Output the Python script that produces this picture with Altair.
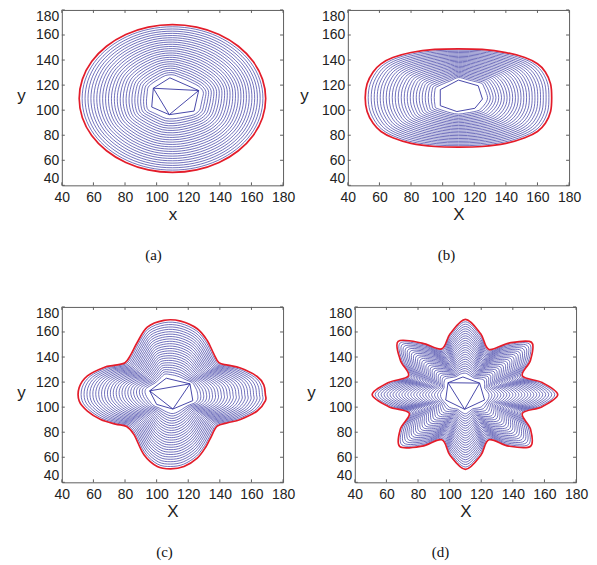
import math
import pandas as pd
import altair as alt

# ---------------- data ----------------
TICKS = [40, 60, 80, 100, 120, 140, 160, 180]
LEVELS = [0.08, 0.12, 0.16, 0.20, 0.24, 0.28, 0.32, 0.36, 0.40, 0.44, 0.48, 0.52,
          0.56, 0.60, 0.64, 0.68, 0.72, 0.76, 0.80, 0.84, 0.88, 0.92, 0.96, 1.00]

# (a) ellipse
A_CENTER = (110.5, 109.5)
A_OUTER_X = [169, 167, 161.1, 151.7, 139.5, 125.3, 110, 94.7, 80.5, 68.3, 58.9, 53, 51, 53, 58.9, 68.3, 80.5, 94.7, 110, 125.3, 139.5, 151.7, 161.1, 167]
A_OUTER_Y = [109.3, 124.6, 138.8, 151, 160.4, 166.3, 168.3, 166.3, 160.4, 151, 138.8, 124.6, 109.3, 94, 79.8, 67.6, 58.2, 52.3, 50.3, 52.3, 58.2, 67.6, 79.8, 94]
A_INNER_X = [97.9, 108.4, 126.6, 123.7, 108.0, 96.9]
A_INNER_Y = [117.5, 125.8, 115.7, 99.3, 96.4, 102.5]
A_TRI_X = [97.9, 126.6, 108.0]
A_TRI_Y = [117.5, 115.7, 96.4]

# (b) rounded rectangle
B_CENTER = (110.0, 110.0)
B_OUTER_X = [169, 168.3, 165, 160, 152, 140, 125, 110, 95, 80, 68.5, 61, 56, 52.2, 51, 52.2, 56, 61, 68.5, 80, 95, 110, 125, 140, 152, 160, 165, 168.3]
B_OUTER_Y = [110, 121, 130.5, 137, 142, 146, 148.5, 149, 148.5, 146, 142, 137, 130.5, 121, 110, 99, 89.5, 83, 78, 73.5, 71, 70.5, 71, 73.5, 78, 83, 89.5, 99]
B_INNER_X = [98.5, 110.0, 122.5, 125.2, 120.4, 109.0, 98.5]
B_INNER_Y = [116.4, 124.0, 119.5, 108.9, 101.5, 98.9, 103.6]
B_TRI_X = []
B_TRI_Y = []

# (c) four-lobed shape
C_CENTER = (110.0, 110.0)
C_OUTER_X = [168.8, 167.8, 163.6, 153, 145, 139.4, 136, 132, 125.7, 115.2, 104.6, 94.1, 87.8, 83.5,
             80, 73, 66.7, 56.2, 51, 51, 56.2, 64.6, 74, 81, 85.7, 92, 100.4, 108.8, 117.3, 125.7,
             131, 134.1, 138.3, 145, 153, 163.6, 168.8]
C_OUTER_Y = [110, 117.8, 124.5, 131.2, 133.5, 135.5, 143, 153.2, 162.6, 168.7, 169.3, 163.9, 151.8, 141.5,
             135.5, 133.3, 131.7, 125, 115.6, 104.9, 96.9, 90.2, 86.5, 84.5, 78.1, 62, 52.6, 50.7, 52.6, 59.3,
             68, 75.4, 84.8, 87.5, 90.2, 96.9, 105]
C_INNER_X = [95.6, 106.1, 121.1, 122.9, 110.3, 100.0]
C_INNER_Y = [113.0, 123.1, 118.6, 105.2, 98.5, 102.2]
C_TRI_X = [95.6, 121.1, 110.3]
C_TRI_Y = [113.0, 118.6, 98.5]

# (d) eight-pointed star (polar: angle in degrees, radius)
D_CENTER = (110.0, 110.0)
D_ANGLES = [0, 11.25, 22.5, 33.75, 45, 56.25, 67.5, 78.75, 90, 101.25, 112.5, 123.75, 135, 146.25,
            157.5, 168.75, 180, 191.25, 202.5, 213.75, 225, 236.25, 247.5, 258.75, 270, 281.25,
            292.5, 303.75, 315, 326.25, 337.5, 348.75]
D_RADII = [58.4, 49.5, 39, 49.5, 59.1, 49.5, 39, 49.5, 60, 49.5, 39.5, 49.5, 60.2, 49.5, 39, 49.5,
           59, 49.5, 38.5, 49.5, 58.7, 49.5, 39, 49.5, 59.7, 49.5, 39, 49.5, 58.3, 49.5, 39, 49.5]
D_INNER_X = [99.0, 108.4, 119.0, 122.1, 109.5, 97.5]
D_INNER_Y = [119.5, 124.1, 119.2, 105.7, 98.3, 105.7]
D_TRI_X = [99.0, 119.0, 109.5]
D_TRI_Y = [119.5, 119.2, 98.3]

BLUE = "#3434a0"
RED = "#e31c2a"
FRAME = "#5e5e5e"
TXT = "#222222"
W, H = 222, 176


def ray_hit(cx, cy, vx, vy, ang):
    dx, dy = math.cos(ang), math.sin(ang)
    best = None
    n = len(vx)
    for i in range(n):
        x1, y1 = vx[i], vy[i]
        x2, y2 = vx[(i + 1) % n], vy[(i + 1) % n]
        ex, ey = x2 - x1, y2 - y1
        den = dx * ey - dy * ex
        if abs(den) < 1e-12:
            continue
        wx, wy = x1 - cx, y1 - cy
        s = (wx * ey - wy * ex) / den
        u = (wx * dy - wy * dx) / den
        if s > 0 and -1e-9 <= u <= 1 + 1e-9:
            best = s if best is None else min(best, s)
    return best


def contour_frame(center, outer_polar, inner_x, inner_y):
    cx, cy = center
    rows = []
    for lev in LEVELS:
        for i, (ang, rout) in enumerate(outer_polar):
            rin = ray_hit(cx, cy, inner_x, inner_y, ang)
            r = rin + lev * (rout - rin)
            rows.append({"level": lev, "idx": i,
                         "x": cx + r * math.cos(ang), "y": cy + r * math.sin(ang)})
    return pd.DataFrame(rows)


def polar_from_xy(center, xs, ys):
    cx, cy = center
    return [(math.atan2(y - cy, x - cx), math.hypot(x - cx, y - cy)) for x, y in zip(xs, ys)]


PANELS = {
    "a": (A_CENTER, polar_from_xy(A_CENTER, A_OUTER_X, A_OUTER_Y), A_INNER_X, A_INNER_Y, A_TRI_X, A_TRI_Y),
    "b": (B_CENTER, polar_from_xy(B_CENTER, B_OUTER_X, B_OUTER_Y), B_INNER_X, B_INNER_Y, B_TRI_X, B_TRI_Y),
    "c": (C_CENTER, polar_from_xy(C_CENTER, C_OUTER_X, C_OUTER_Y), C_INNER_X, C_INNER_Y, C_TRI_X, C_TRI_Y),
    "d": (D_CENTER, [(math.radians(a), r) for a, r in zip(D_ANGLES, D_RADII)], D_INNER_X, D_INNER_Y, D_TRI_X, D_TRI_Y),
}


def panel(key, xtitle, ytitle_x, cap_dx):
    center, outer, ix, iy, tx, ty = PANELS[key]
    df = contour_frame(center, outer, ix, iy)
    blue = df[df["level"] < 0.999]
    red = df[df["level"] >= 0.999]
    poly = pd.DataFrame({"idx": list(range(len(ix))), "x": ix, "y": iy})
    tri = pd.DataFrame({"idx": list(range(len(tx))), "x": tx, "y": ty})
    tk = pd.DataFrame({"v": TICKS})

    xs = alt.Scale(domain=[40, 180], nice=False, zero=False)
    ys = alt.Scale(domain=[40, 180], nice=False, zero=False)
    xaxis = alt.Axis(values=TICKS, ticks=False, domain=False, grid=False, labelPadding=5,
                     title=xtitle, titlePadding=2, labelFlush=False)
    yaxis = alt.Axis(values=TICKS, ticks=False, domain=False, grid=False, labelPadding=3,
                     labelFlush=True, title="y", titleAngle=0, titleAlign="center",
                     titleBaseline="middle", titleX=ytitle_x, titleY=H / 2 - 2)
    X = alt.X("x:Q", scale=xs, axis=xaxis)
    Y = alt.Y("y:Q", scale=ys, axis=yaxis)

    layers = [
        alt.Chart(blue).mark_line(interpolate="cardinal-closed", stroke=BLUE, strokeWidth=0.7)
        .encode(x=X, y=Y, detail="level:N", order="idx:Q"),
        alt.Chart(poly).mark_line(interpolate="linear-closed", stroke=BLUE, strokeWidth=0.9)
        .encode(x=X, y=Y, order="idx:Q"),
    ]
    if len(tx):
        layers.append(alt.Chart(tri).mark_line(interpolate="linear-closed", stroke=BLUE, strokeWidth=0.9)
                      .encode(x=X, y=Y, order="idx:Q"))
    layers.append(alt.Chart(red).mark_line(interpolate="cardinal-closed", stroke=RED, strokeWidth=1.7)
                  .encode(x=X, y=Y, order="idx:Q"))
    # inward tick marks on all four sides
    layers += [
        alt.Chart(tk).mark_rule(color=FRAME, strokeWidth=1).encode(
            x=alt.X("v:Q", scale=xs, axis=xaxis), y=alt.value(H - 3), y2=alt.value(H)),
        alt.Chart(tk).mark_rule(color=FRAME, strokeWidth=1).encode(
            x=alt.X("v:Q", scale=xs, axis=xaxis), y=alt.value(0), y2=alt.value(3)),
        alt.Chart(tk).mark_rule(color=FRAME, strokeWidth=1).encode(
            y=alt.Y("v:Q", scale=ys, axis=yaxis), x=alt.value(0), x2=alt.value(3)),
        alt.Chart(tk).mark_rule(color=FRAME, strokeWidth=1).encode(
            y=alt.Y("v:Q", scale=ys, axis=yaxis), x=alt.value(W - 3), x2=alt.value(W)),
    ]
    return alt.layer(*layers).properties(
        width=W, height=H,
        title=alt.TitleParams(text="(" + key + ")", orient="bottom", font="Liberation Serif",
                              fontSize=15, fontWeight="normal", color="#111111", offset=26,
                              anchor="middle", frame="group", dx=cap_dx),
    )


row1 = alt.hconcat(panel("a", "x", -41, -19), panel("b", "X", -44, -12), spacing=3)
row2 = alt.hconcat(panel("c", "X", -41, -8), panel("d", "X", -44, -25), spacing=10)

chart = alt.vconcat(row1, row2, spacing=42).properties(
    padding={"left": 8, "top": 0, "right": 0, "bottom": 0},
    background="white",
).configure_view(stroke=FRAME, strokeWidth=1).configure_axis(
    labelFont="Liberation Sans", labelFontSize=14, labelColor=TXT,
    titleFont="Liberation Sans", titleFontSize=17, titleFontWeight="normal", titleColor=TXT,
)

chart.save("out.html", embed_options={"renderer": "svg", "actions": False})
